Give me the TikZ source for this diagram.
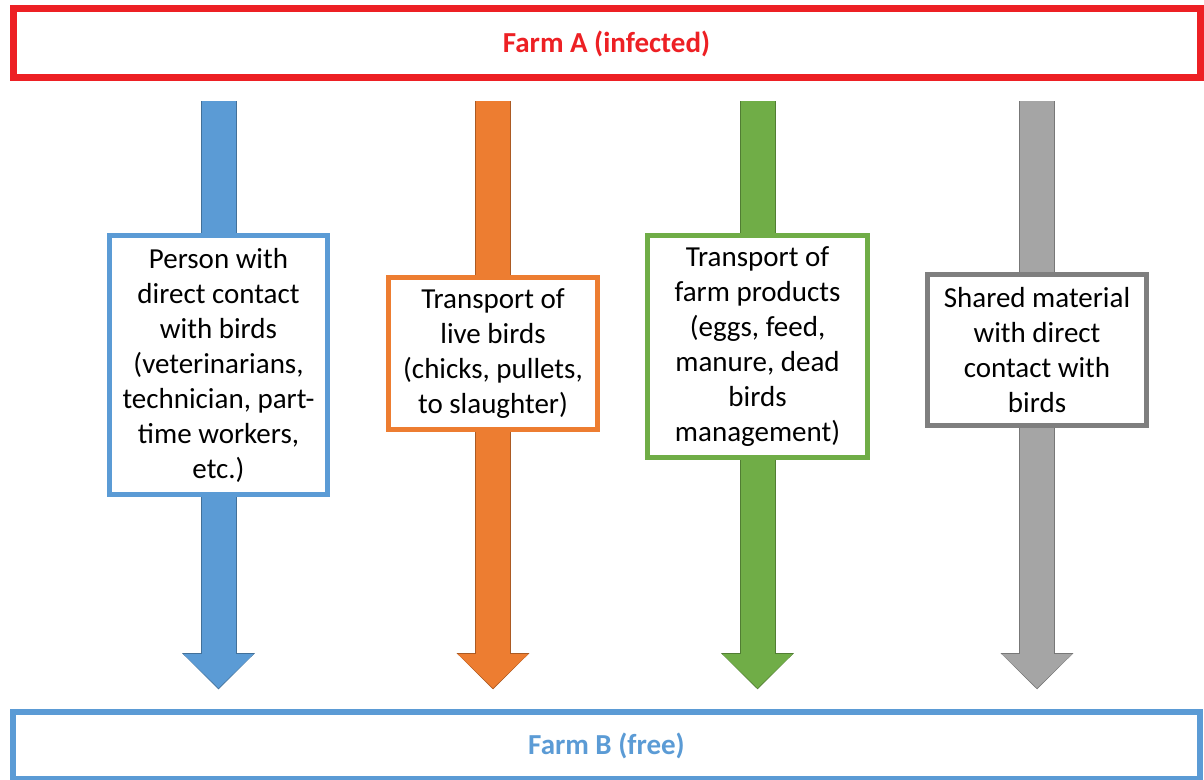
\documentclass[tikz,border=0pt]{standalone}
\usepackage{fontspec}
\setmainfont{Carlito}
\usetikzlibrary{arrows.meta,backgrounds}
\definecolor{farmred}{HTML}{ED2024}
\definecolor{pathblue}{HTML}{5B9BD5}
\definecolor{pathorange}{HTML}{ED7D31}
\definecolor{pathgreen}{HTML}{70AD47}
\definecolor{pathgray}{HTML}{A5A5A5}
\definecolor{boxgray}{HTML}{7F7F7F}
\tikzset{
  farm/.style={draw=#1, text=#1, line width=3.5pt, minimum width=593.5pt, minimum height=34.5pt, inner sep=0pt, font=\fontsize{14.5}{17.5}\selectfont\bfseries},
  route/.style={draw=#1, fill=white, line width=2.5pt, align=center, inner sep=0pt},
  flow/.style={draw=#1, line width=17pt, shorten <=10pt, shorten >=10.35pt,
    -{Triangle[length=17pt,width=35pt,line width=0.4pt]},
    preaction={draw=#1!72!black, line width=18pt, shorten >=9.75pt,
      -{Triangle[length=18.1pt,width=36.4pt,line width=0.4pt]}}}
}
\begin{document}
\begin{tikzpicture}[x=0.5pt,y=-0.5pt,font=\fontsize{14.5}{17.5}\selectfont]
\useasboundingbox (0,0) rectangle (1204,780);
\node[farm=farmred] (farmA) at (606.5,43.5) {Farm A (infected)};
\node[farm=pathblue, line width=3.25pt, minimum height=33.5pt] (farmB) at (606.5,745.5) {Farm B (free)};
\node[route=pathblue, minimum width=109pt, minimum height=129.5pt] (persons) at (218.5,365) {Person with\\direct contact\\with birds\\(veterinarians,\\technician, part-\\time workers,\\etc.)};
\node[route=pathorange, minimum width=104.5pt, minimum height=76pt] (livebirds) at (493,353.5) {Transport of\\live birds\\(chicks, pullets,\\to slaughter)};
\node[route=pathgreen, minimum width=110pt, minimum height=111pt] (products) at (757.5,346.5) {Transport of\\farm products\\(eggs, feed,\\manure, dead\\birds\\management)};
\node[route=boxgray, minimum width=109.5pt, minimum height=75.5pt] (material) at (1037,350) {Shared material\\with direct\\contact with\\birds};
\begin{scope}[on background layer]
\draw[flow=pathblue] (farmA.south -| persons) -- (farmB.north -| persons);
\draw[flow=pathorange] (farmA.south -| livebirds) -- (farmB.north -| livebirds);
\draw[flow=pathgreen] (farmA.south -| products) -- (farmB.north -| products);
\draw[flow=pathgray] (farmA.south -| material) -- (farmB.north -| material);
\end{scope}
\end{tikzpicture}
\end{document}
